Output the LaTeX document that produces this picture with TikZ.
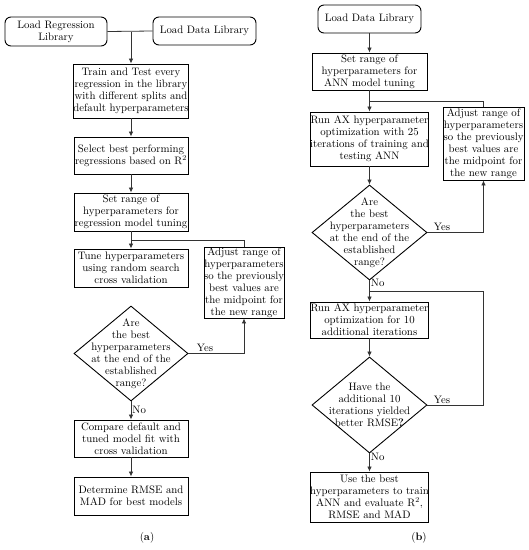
\documentclass[tikz,border=0pt]{standalone}
\usetikzlibrary{shapes.geometric,arrows.meta,calc}
\begin{document}
\begin{tikzpicture}[x=1pt,y=-1pt,
  every node/.style={font=\fontsize{10.8}{12}\selectfont},
  box/.style={draw=black,line width=0.9pt,align=center,inner sep=0pt,minimum width=114pt},
  rbox/.style={box,rounded corners=6pt,minimum width=103pt,minimum height=28pt},
  dia/.style={draw=black,line width=0.9pt,diamond,inner sep=0pt,minimum width=114pt,minimum height=95pt},
  lbl/.style={inner sep=1pt},
  conn/.style={draw=black!80,line width=0.8pt},
  arr/.style={conn,-{Latex[length=5pt,width=4.5pt]}}]
\useasboundingbox (0,0) rectangle (529,550);
% ---------- left panel ----------
\node[rbox,minimum width=102pt,minimum height=29pt] (lrl) at (56,31.5) {Load Regression\\Library};
\node[rbox] (ldl) at (204.5,31) {Load Data Library};
\node[box,minimum height=54pt] (train) at (131,91) {Train and Test every\\regression in the library\\with different splits and\\default hyperparameters};
\node[box,minimum height=37pt] (select) at (131,155.5) {Select best performing\\regressions based on R\textsuperscript{2}};
\node[box,minimum height=38pt] (setl) at (131,212) {Set range of\\hyperparameters for\\regression model tuning};
\node[box,minimum height=38pt] (tune) at (131,268) {Tune hyperparameters\\using random search\\cross validation};
\node[box,minimum width=80pt,minimum height=71pt] (adjl) at (244,282.5) {Adjust range of\\hyperparameters\\so the previously\\best values are\\the midpoint for\\the new range};
\node[dia] (d1l) at (131,353.5) {};
\node[align=center,inner sep=0pt] (d1lt) at (d1l.center) {Are\\the best\\hyperparameters\\at the end of the\\established\\range?};
\node[box,minimum height=37pt] (compare) at (131,438.5) {Compare default and\\tuned model fit with\\cross validation};
\node[box,minimum height=38pt] (determine) at (131,496) {Determine RMSE and\\MAD for best models};
\node (capa) at (147,538) {(\textbf{a})};
\coordinate (j1) at (train.north |- lrl.east);
\draw[conn] (lrl.east) -- (ldl.west);
\draw[arr] (j1) -- (train.north);
\draw[arr] (train) -- (select);
\draw[arr] (select) -- (setl);
\draw[arr] (setl) -- (tune);
\coordinate (j2) at ($(setl.south)!0.5!(tune.north)$);
\draw[conn] (adjl.north) |- (j2);
\draw[arr] (d1l.east) -| node[lbl,pos=0.15,above] (yl) {Yes} (adjl.south);
\draw[arr] (d1l.south) -- node[lbl,right,pos=0.45] (nl) {No} (compare.north);
\draw[arr] (compare) -- (determine);
% ---------- right panel ----------
\node[rbox] (ldr) at (369.5,19) {Load Data Library};
\node[box,minimum width=115pt,minimum height=37pt] (setr) at (369.5,71.5) {Set range of\\hyperparameters for\\ANN model tuning};
\node[box,minimum width=81pt,minimum height=73pt] (adjr) at (483.5,143.5) {Adjust range of\\hyperparameters\\so the previously\\best values are\\the midpoint for\\the new range};
\node[box,minimum width=115pt,minimum height=54pt] (runr) at (369.5,139) {Run AX hyperparameter\\optimization with 25\\iterations of training and\\testing ANN};
\node[dia,minimum width=115pt] (d1r) at (369.5,232.5) {};
\node[align=center,inner sep=0pt] (d1rt) at (d1r.center) {Are\\the best\\hyperparameters\\at the end of the\\established\\range?};
\node[box,minimum width=115pt,minimum height=36pt] (run10) at (369.5,320) {Run AX hyperparameter\\optimization for 10\\additional iterations};
\node[dia,minimum width=115pt,minimum height=96pt] (d2r) at (369.5,405) {};
\node[align=center,inner sep=0pt] (d2rt) at (d2r.center) {Have the\\additional 10\\iterations yielded\\better RMSE\textbf{?}};
\node[box,minimum width=115pt,minimum height=50pt] (user) at (369.5,497) {Use the best\\hyperparameters to train\\ANN and evaluate R\textsuperscript{2},\\RMSE and MAD};
\node (capb) at (419,538) {(\textbf{b})};
\draw[arr] (ldr) -- (setr);
\draw[arr] (setr) -- (runr);
\coordinate (j3) at ($(setr.south)!0.5!(runr.north)$);
\draw[conn] (j3) -| (adjr.north);
\draw[arr] (runr) -- (d1r);
\draw[arr] (d1r.east) -| node[lbl,pos=0.13,above] (yr1) {Yes} (adjr.south);
\coordinate (j4) at ($(d1r.south)!0.5!(run10.north)$);
\draw[arr] (d1r.south) -- node[lbl,right,pos=0.12] (nr1) {No} (run10.north);
\draw[arr] (run10) -- (d2r);
\draw[conn] (d2r.east) -| node[lbl,pos=0.13,above] (yr2) {Yes} (adjr.center |- j4) -- (j4);
\draw[arr] (d2r.south) -- node[lbl,right,pos=0.2] (nr2) {No} (user.north);
\end{tikzpicture}
\end{document}
